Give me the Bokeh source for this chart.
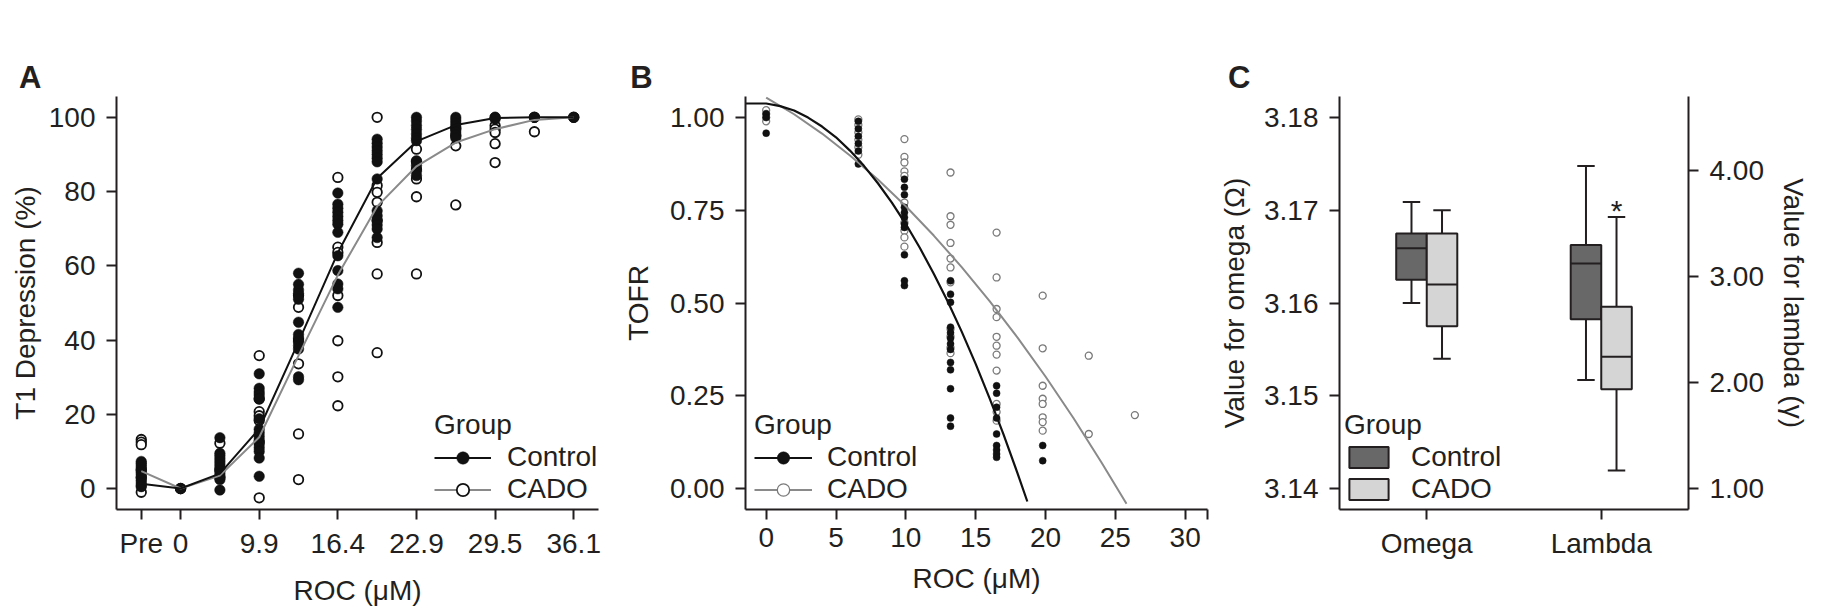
from bokeh.plotting import figure
from bokeh.models import (Range1d, FactorRange, LinearAxis, FixedTicker, NumeralTickFormatter,
                          Legend, LegendItem, ColumnDataSource)
from bokeh.transform import dodge
from bokeh.layouts import row
from bokeh.core.properties import value
from bokeh.embed import file_html
from bokeh.resources import INLINE

FONT = "Liberation Sans"
INK = "#231f20"
GREY = "#8a8a8a"

# ---------------- Panel A data ----------------
a_doses = ["Pre", "0", "6.6", "9.9", "13.2", "16.4", "19.7", "22.9", "26.2", "29.5", "32.8", "36.1"]
a_tick_labels = ["Pre", "0", "9.9", "16.4", "22.9", "29.5", "36.1"]
a_ctrl_points = [
    [7.3, 6.8, 6.2, 5.6, 5.0, 4.4, 3.8, 3.0, 2.2, 1.5, 0.8, 0.5],
    [0.0, 0.0, 0.0],
    [13.7, 9.5, 8.8, 8.0, 7.2, 6.4, 5.6, 4.8, 4.0, 3.2, 2.4, -0.4],
    [30.9, 27.0, 26.0, 25.2, 24.2, 18.8, 16.0, 15.0, 14.0, 13.0, 12.0, 11.0, 10.0, 8.2, 3.3],
    [58.0, 55.0, 53.5, 52.5, 51.0, 44.8, 41.5, 40.5, 39.5, 38.5, 37.6, 30.1, 29.3],
    [79.6, 76.6, 75.5, 74.4, 73.3, 72.2, 71.2, 69.0, 62.7, 58.7, 55.1, 53.8, 48.8],
    [94.1, 93.0, 92.0, 91.0, 90.0, 89.0, 88.0, 83.4, 74.8, 73.5, 72.3, 71.0, 69.9, 67.6],
    [100.0, 99.0, 97.8, 96.7, 95.5, 94.4, 93.7, 88.3, 87.0, 85.5, 84.3],
    [100.0, 99.2, 98.4, 97.6, 96.8, 96.0, 95.2, 94.4],
    [100.0, 100.0, 99.5],
    [100.0, 100.0],
    [100.0, 100.0],
]
a_cado_points = [
    [13.2, 12.5, 11.8, 5.0, 3.0, -1.0],
    [0.0],
    [12.2, 5.0, 3.0],
    [35.8, 24.1, 20.7, 19.6, 18.3, 12.5, -2.5],
    [52.0, 48.8, 40.0, 33.6, 14.7, 2.4],
    [83.8, 65.0, 63.6, 52.0, 39.8, 30.1, 22.3],
    [100.0, 81.6, 79.8, 77.1, 72.1, 66.3, 57.8, 36.6],
    [91.4, 88.0, 86.0, 83.4, 78.6, 57.8],
    [97.0, 95.0, 92.3, 76.4],
    [97.7, 96.8, 95.9, 92.9, 87.8],
    [100.0, 96.1],
    [100.0],
]
a_ctrl_mean = [1.3, 0.0, 4.0, 16.1, 39.5, 63.5, 83.6, 93.5, 97.9, 99.8, 100.0, 100.0]
a_cado_mean = [4.7, 0.0, 3.5, 13.8, 35.8, 57.5, 76.0, 86.8, 93.2, 96.8, 99.3, 100.0]
a_yticks = [0, 20, 40, 60, 80, 100]

# ---------------- Panel B data ----------------
b_doses = [0, 6.6, 9.9, 13.2, 16.5, 19.8, 23.1, 26.4]
b_ctrl_points = [
    [1.01, 1.0, 0.958],
    [0.99, 0.97, 0.95, 0.93, 0.91, 0.875],
    [0.834, 0.812, 0.792, 0.758, 0.744, 0.731, 0.713, 0.704, 0.630, 0.560, 0.547],
    [0.560, 0.524, 0.502, 0.435, 0.420, 0.405, 0.390, 0.375, 0.340, 0.320, 0.269, 0.190, 0.168],
    [0.277, 0.257, 0.219, 0.190, 0.147, 0.116, 0.104, 0.093, 0.084],
    [0.116, 0.075],
    [],
    [],
]
b_cado_points = [
    [1.02, 1.01, 1.0, 0.99],
    [0.995, 0.98, 0.96, 0.94, 0.92, 0.90],
    [0.942, 0.894, 0.879, 0.855, 0.843, 0.771, 0.717, 0.695, 0.677, 0.652],
    [0.852, 0.734, 0.711, 0.662, 0.620, 0.596, 0.556, 0.430, 0.410, 0.380, 0.365],
    [0.690, 0.569, 0.484, 0.462, 0.409, 0.385, 0.361, 0.318, 0.228, 0.206, 0.183],
    [0.520, 0.378, 0.277, 0.242, 0.228, 0.192, 0.179, 0.156],
    [0.358, 0.147],
    [0.198],
]
b_ctrl_curve_x = [-1.5, 0, 1, 2, 3, 4, 5, 6, 7, 8, 9, 10, 11, 12, 13, 14, 15, 16, 17, 18, 18.7]
b_ctrl_curve_y = [1.038, 1.038, 1.031, 1.019, 1.000, 0.976, 0.947, 0.911, 0.870, 0.823, 0.771,
                  0.713, 0.649, 0.579, 0.504, 0.423, 0.336, 0.243, 0.145, 0.041, -0.035]
b_cado_curve_x = [0, 2, 4, 6, 8, 10, 12, 14, 16, 18, 20, 22, 24, 25.8]
b_cado_curve_y = [1.054, 1.009, 0.957, 0.898, 0.833, 0.761, 0.682, 0.597, 0.505, 0.407,
                  0.302, 0.190, 0.071, -0.041]
b_xticks = [0, 5, 10, 15, 20, 25, 30]
b_xmax = 31.6
b_yticks = [0.0, 0.25, 0.5, 0.75, 1.0]

# ---------------- Panel C data ----------------
c_metrics = ["Omega", "Lambda"]
c_groups = ["Control", "CADO"]
omega_low = [3.1600, 3.1540]
omega_q1 = [3.1625, 3.1575]
omega_med = [3.1659, 3.1620]
omega_q3 = [3.1675, 3.1675]
omega_high = [3.1709, 3.1700]
lambda_low = [2.025, 1.170]
lambda_q1 = [2.597, 1.937]
lambda_med = [3.125, 2.245]
lambda_q3 = [3.300, 2.717]
lambda_high = [4.044, 3.563]
lambda_signif = ["", "*"]
c_fill = ["#686868", "#d5d5d5"]
omega_ticks = [3.14, 3.15, 3.16, 3.17, 3.18]
lambda_ticks = [1.0, 2.0, 3.0, 4.0]


def style_axis(ax, label_standoff, title_standoff):
    ax.axis_line_width = 2
    ax.axis_line_color = INK
    ax.major_tick_line_width = 2
    ax.major_tick_line_color = INK
    ax.major_tick_out = 10
    ax.major_tick_in = 0
    ax.minor_tick_line_color = None
    ax.major_label_text_font = FONT
    ax.major_label_text_font_size = "28px"
    ax.major_label_text_color = INK
    ax.major_label_standoff = label_standoff
    ax.axis_label_text_font = FONT
    ax.axis_label_text_font_size = "28px"
    ax.axis_label_text_font_style = "normal"
    ax.axis_label_text_color = INK
    ax.axis_label_standoff = title_standoff


def make_fig(width, left, right, x_range, y_range, letter, letter_dx):
    p = figure(width=width, height=608, x_range=x_range, y_range=y_range,
               output_backend="svg", toolbar_location=None,
               min_border_left=left, min_border_right=right,
               min_border_top=96, min_border_bottom=99)
    p.xgrid.visible = False
    p.ygrid.visible = False
    p.outline_line_color = None
    p.background_fill_color = "white"
    p.border_fill_color = "white"
    p.title.text = letter
    p.title.align = "left"
    p.title.offset = letter_dx
    p.title.standoff = 4
    p.title.text_font = FONT
    p.title.text_font_size = "31px"
    p.title.text_font_style = "bold"
    p.title.text_color = INK
    return p


def make_legend(p, items, x, y, standoff, gw, gh):
    leg = Legend(items=items, title="Group", location=(x, y),
                 title_text_font=FONT, title_text_font_size="28px", title_text_font_style="normal",
                 title_text_color=INK, title_standoff=0,
                 label_text_font=FONT, label_text_font_size="28px", label_text_color=INK,
                 label_standoff=standoff, glyph_width=gw, glyph_height=gh, label_height=31,
                 spacing=0, padding=0, margin=0,
                 border_line_color=None, background_fill_alpha=0)
    p.add_layout(leg)


# ================= Panel A =================
pa = make_fig(620, 116, 22, Range1d(-0.63, 11.63), Range1d(-5.65, 105.6), "A", -97.6)
a_ctrl_src = ColumnDataSource(dict(
    x=[i for i, vals in enumerate(a_ctrl_points) for _ in vals],
    y=[v for vals in a_ctrl_points for v in vals]))
a_cado_src = ColumnDataSource(dict(
    x=[i for i, vals in enumerate(a_cado_points) for _ in vals],
    y=[v for vals in a_cado_points for v in vals]))
a_pos = list(range(len(a_doses)))
a_cado_pts = pa.scatter("x", "y", source=a_cado_src, size=9.5, marker="circle",
                        fill_color="white", line_color="#111111", line_width=1.8)
a_ctrl_pts = pa.scatter("x", "y", source=a_ctrl_src, size=10.5, marker="circle",
                        fill_color="#111111", line_color="#111111", line_width=0.5)
a_cado_line = pa.line(a_pos, a_cado_mean, line_color=GREY, line_width=2)
a_ctrl_line = pa.line(a_pos, a_ctrl_mean, line_color="#111111", line_width=2)
a_tick_pos = [a_doses.index(t) for t in a_tick_labels]
pa.xaxis.ticker = FixedTicker(ticks=a_tick_pos)
pa.xaxis.major_label_overrides = {pos: lab for pos, lab in zip(a_tick_pos, a_tick_labels)}
pa.yaxis.ticker = FixedTicker(ticks=a_yticks)
pa.xaxis.axis_label = "ROC (\u03bcM)"
pa.yaxis.axis_label = "T1 Depression (%)"
style_axis(pa.xaxis[0], 8, 13)
style_axis(pa.yaxis[0], 11, 5)
make_legend(pa, [LegendItem(label="Control", renderers=[a_ctrl_line, a_ctrl_pts]),
                 LegendItem(label="CADO", renderers=[a_cado_line, a_cado_pts])],
            318, 4, 16, 57, 31)

# ================= Panel B =================
pb = make_fig(595, 122, 8, Range1d(-1.48, b_xmax), Range1d(-0.0566, 1.0569), "B", -115.2)
b_ctrl_src = ColumnDataSource(dict(
    x=[b_doses[i] for i, vals in enumerate(b_ctrl_points) for _ in vals],
    y=[v for vals in b_ctrl_points for v in vals]))
b_cado_src = ColumnDataSource(dict(
    x=[b_doses[i] for i, vals in enumerate(b_cado_points) for _ in vals],
    y=[v for vals in b_cado_points for v in vals]))
b_cado_pts = pb.scatter("x", "y", source=b_cado_src, size=7, marker="circle",
                        fill_color="white", line_color="#7a7a7a", line_width=1.3)
b_ctrl_pts = pb.scatter("x", "y", source=b_ctrl_src, size=7, marker="circle",
                        fill_color="#111111", line_color="#111111", line_width=0.5)
b_cado_line = pb.line(b_cado_curve_x, b_cado_curve_y, line_color=GREY, line_width=2)
b_ctrl_line = pb.line(b_ctrl_curve_x, b_ctrl_curve_y, line_color="#111111", line_width=2.2)
pb.xaxis.ticker = FixedTicker(ticks=b_xticks + [b_xmax])
pb.xaxis.major_label_overrides = {b_xmax: ""}
pb.yaxis.ticker = FixedTicker(ticks=b_yticks)
pb.yaxis.formatter = NumeralTickFormatter(format="0.00")
pb.xaxis.axis_label = "ROC (\u03bcM)"
pb.yaxis.axis_label = "TOFR"
style_axis(pb.xaxis[0], 8, 13)
style_axis(pb.yaxis[0], 11, 13)
make_legend(pb, [LegendItem(label="Control", renderers=[b_ctrl_line, b_ctrl_pts]),
                 LegendItem(label="CADO", renderers=[b_cado_line, b_cado_pts])],
            9, 4, 15, 58, 31)

# ================= Panel C =================
pc = make_fig(611, 124, 138, FactorRange(factors=c_metrics, range_padding=0),
              Range1d(3.13774, 3.18227), "C", -111.5)
pc.extra_y_ranges = {"lam": Range1d(0.802, 4.701)}
box_w = 0.175
offsets = [-box_w / 2, box_w / 2]
cap_half = 0.05
stats = {
    "Omega": (omega_low, omega_q1, omega_med, omega_q3, omega_high, "default"),
    "Lambda": (lambda_low, lambda_q1, lambda_med, lambda_q3, lambda_high, "lam"),
}
legend_boxes = []
for gi, g in enumerate(c_groups):
    off = offsets[gi]
    for m in c_metrics:
        lo, q1, md, q3, hi, rng = stats[m]
        src = ColumnDataSource(dict(cat=[m], low=[lo[gi]], q1=[q1[gi]], med=[md[gi]],
                                    q3=[q3[gi]], high=[hi[gi]]))
        xr = pc.x_range
        pc.segment(x0=dodge("cat", off, range=xr), x1=dodge("cat", off, range=xr),
                   y0="q3", y1="high", source=src, y_range_name=rng, line_color=INK, line_width=2)
        pc.segment(x0=dodge("cat", off, range=xr), x1=dodge("cat", off, range=xr),
                   y0="low", y1="q1", source=src, y_range_name=rng, line_color=INK, line_width=2)
        pc.segment(x0=dodge("cat", off - cap_half, range=xr), x1=dodge("cat", off + cap_half, range=xr),
                   y0="high", y1="high", source=src, y_range_name=rng, line_color=INK, line_width=2)
        pc.segment(x0=dodge("cat", off - cap_half, range=xr), x1=dodge("cat", off + cap_half, range=xr),
                   y0="low", y1="low", source=src, y_range_name=rng, line_color=INK, line_width=2)
        box = pc.vbar(x=dodge("cat", off, range=xr), width=box_w, bottom="q1", top="q3",
                      source=src, y_range_name=rng, fill_color=c_fill[gi],
                      line_color=INK, line_width=2)
        pc.segment(x0=dodge("cat", off - box_w / 2, range=xr), x1=dodge("cat", off + box_w / 2, range=xr),
                   y0="med", y1="med", source=src, y_range_name=rng, line_color=INK, line_width=2)
        if m == "Omega":
            legend_boxes.append(box)
        if m == "Lambda" and lambda_signif[gi]:
            ssrc = ColumnDataSource(dict(cat=[m], high=[hi[gi]], s=[lambda_signif[gi]]))
            pc.text(x=dodge("cat", off, range=xr), y="high", text="s", source=ssrc,
                    y_range_name="lam", text_align="center", text_baseline="alphabetic",
                    y_offset=-7,
                    text_font=value(FONT), text_font_size=value("30px"), text_color=INK)

pc.yaxis.ticker = FixedTicker(ticks=omega_ticks)
pc.yaxis.formatter = NumeralTickFormatter(format="0.00")
pc.yaxis.axis_label = "Value for omega (\u03a9)"
style_axis(pc.yaxis[0], 11, 11)
style_axis(pc.xaxis[0], 8, 13)
right_ax = LinearAxis(y_range_name="lam", ticker=FixedTicker(ticks=lambda_ticks),
                      formatter=NumeralTickFormatter(format="0.00"),
                      axis_label="Value for lambda (\u03b3)")
style_axis(right_ax, 11, 11)
pc.add_layout(right_ax, "right")
make_legend(pc, [LegendItem(label=c_groups[0], renderers=[legend_boxes[0]]),
                 LegendItem(label=c_groups[1], renderers=[legend_boxes[1]])],
            5, 4, 18, 49, 26)

layout = row(pa, pb, pc, spacing=0)
open("out.html", "w").write(file_html(layout, INLINE))
